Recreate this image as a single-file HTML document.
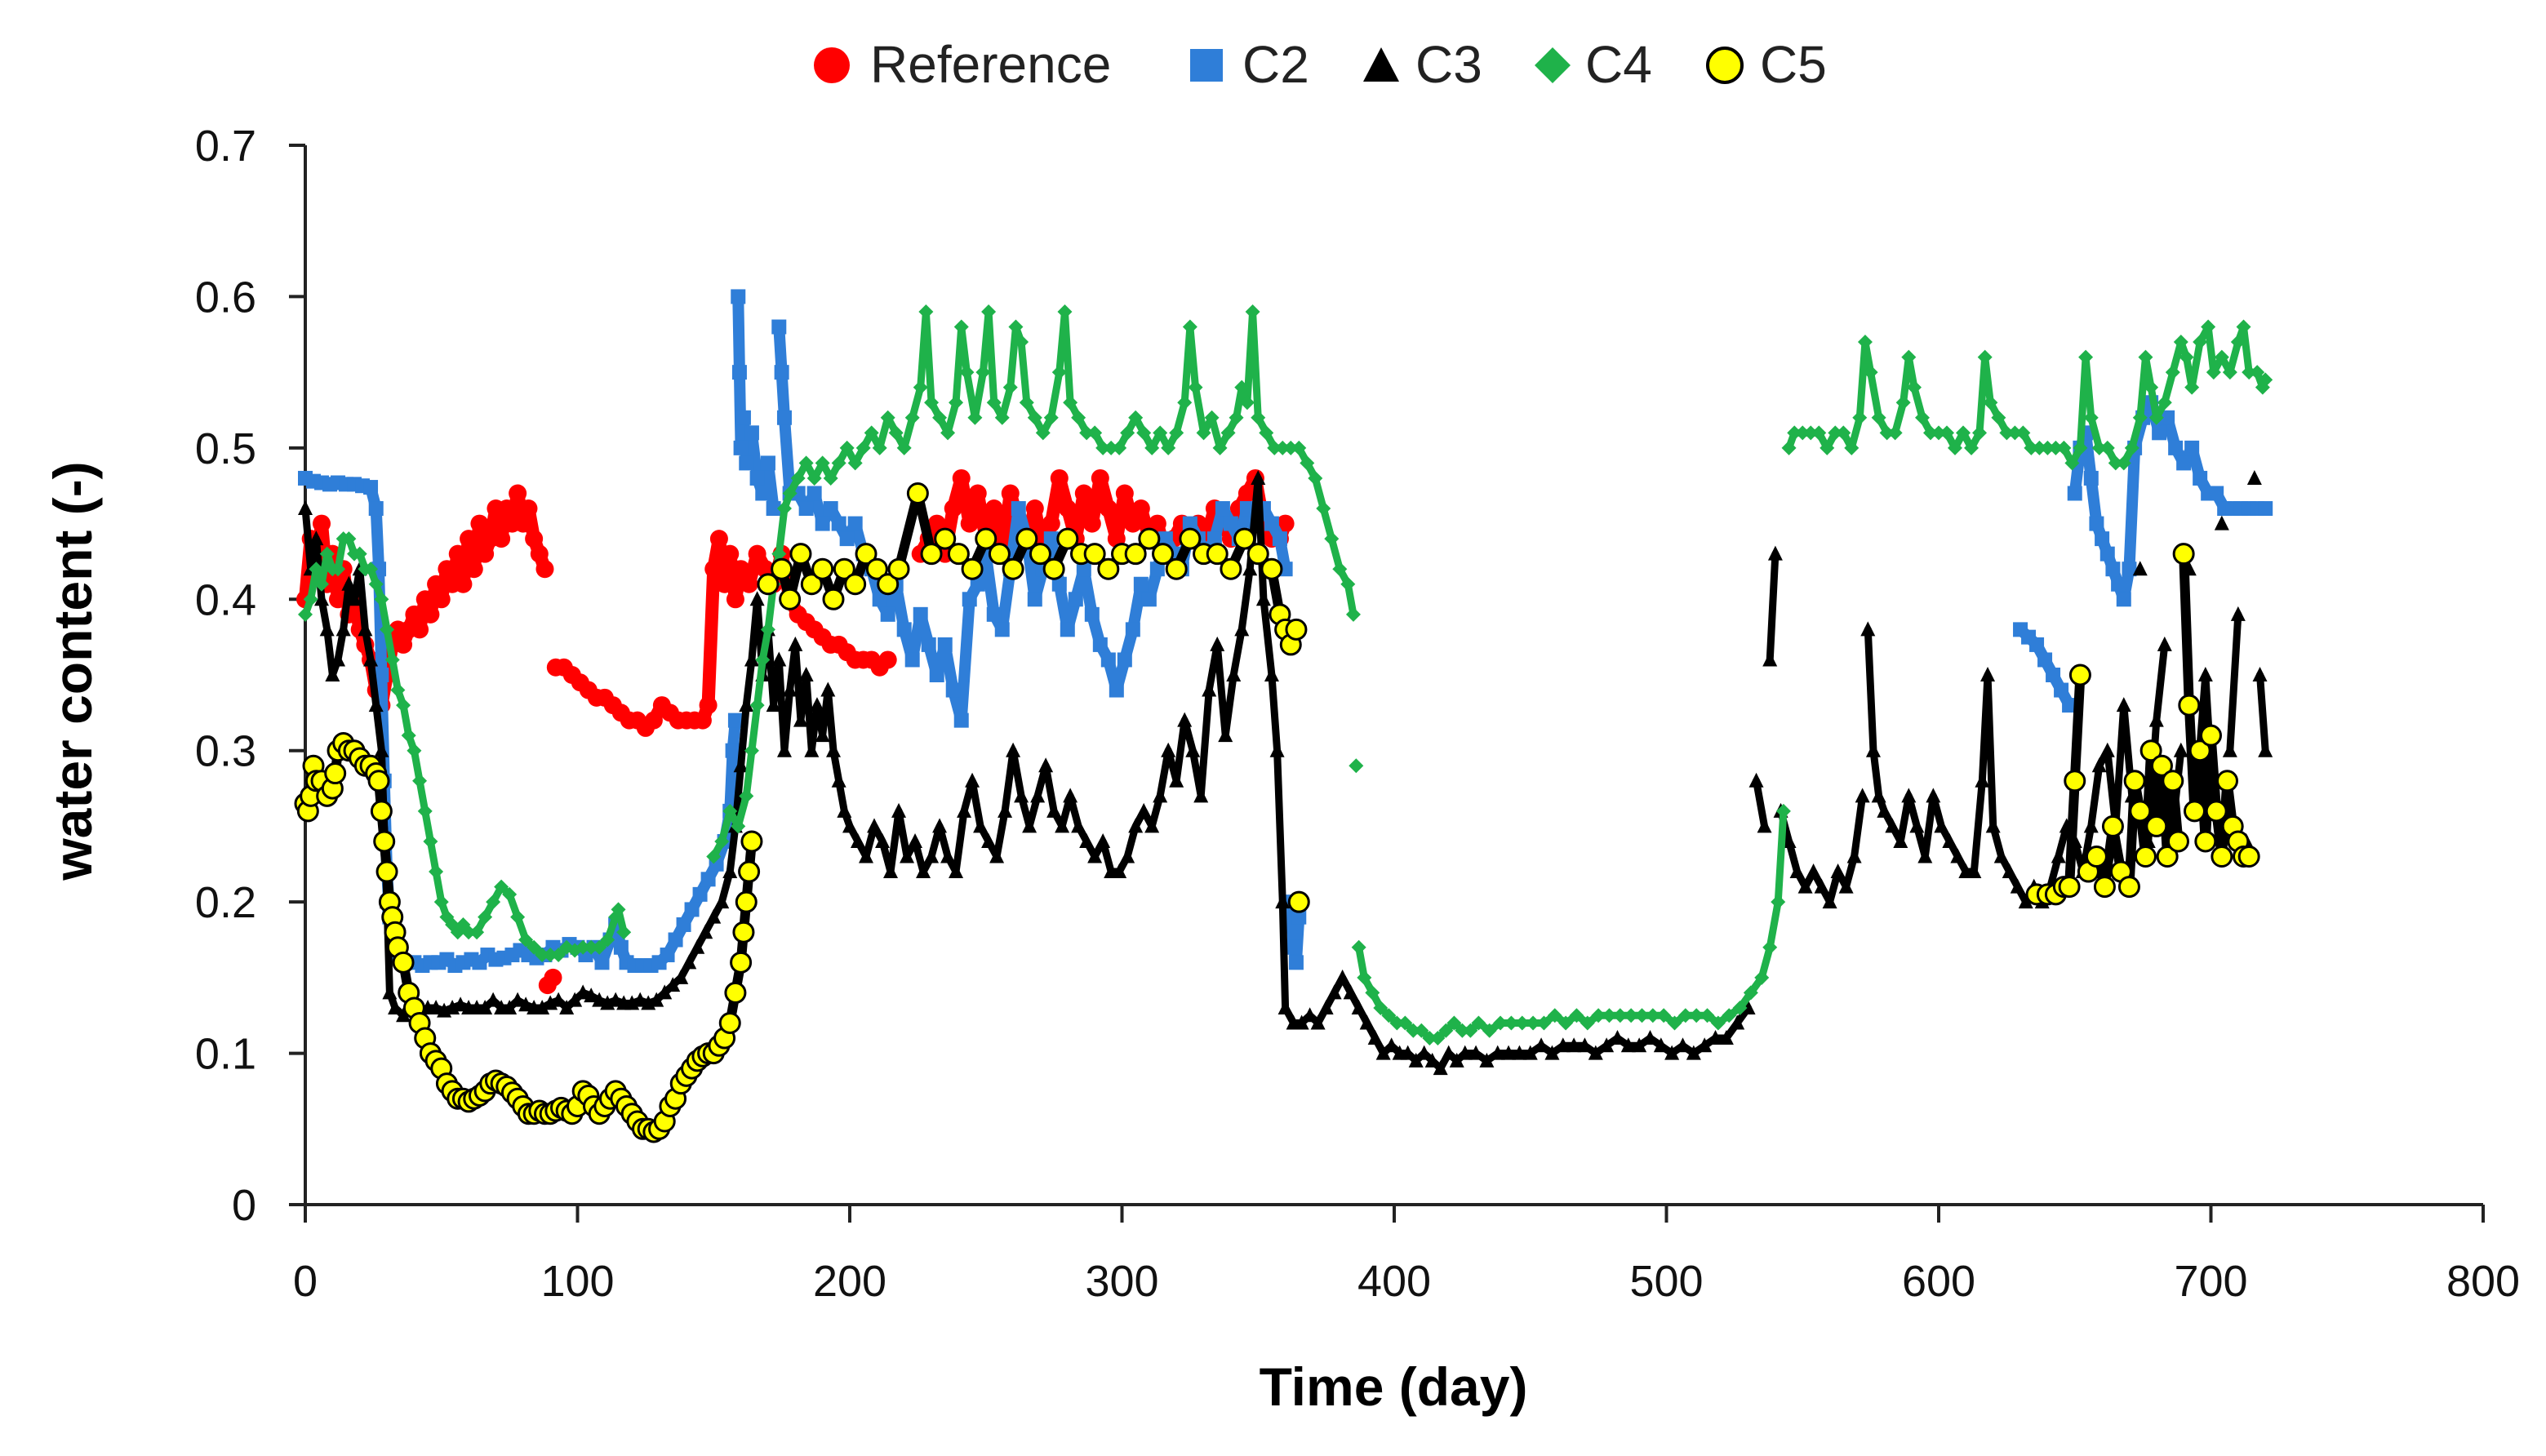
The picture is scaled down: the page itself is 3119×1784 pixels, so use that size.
<!DOCTYPE html>
<html><head><meta charset="utf-8"><style>
html,body{margin:0;padding:0;background:#fff;}
svg{display:block;font-family:"Liberation Sans",sans-serif;}
</style></head><body>
<svg id="chart" width="3119" height="1784" viewBox="0 0 3119 1784" xmlns="http://www.w3.org/2000/svg">
<rect width="3119" height="1784" fill="#fff"/>
<g id="legend">
 <g><circle cx="1019" cy="80" r="22" fill="#ff0000"/><text x="1066" y="101" font-size="64" fill="#222">Reference</text></g>
 <g><rect x="1458" y="60" width="40" height="40" fill="#2f7ed8"/><text x="1522" y="101" font-size="64" fill="#222">C2</text></g>
 <g><polygon points="1692,58 1714,100 1670,100" fill="#000"/><text x="1734" y="101" font-size="64" fill="#222">C3</text></g>
 <g><polygon points="1902,58 1924,80 1902,102 1880,80" fill="#1fb24a"/><text x="1942" y="101" font-size="64" fill="#222">C4</text></g>
 <g><circle cx="2113" cy="80" r="21" fill="#ffff00" stroke="#000" stroke-width="4"/><text x="2156" y="101" font-size="64" fill="#222">C5</text></g>
</g>
<g id="axes"></g>
<g id="marks"></g>
<text x="1707" y="1722" font-size="66" font-weight="bold" text-anchor="middle" fill="#000">Time (day)</text>
<text x="0" y="0" font-size="66" font-weight="bold" text-anchor="middle" fill="#000" transform="translate(112,822) rotate(-90)">water content (-)</text>
</svg>
<script>
const xTicks=[0,100,200,300,400,500,600,700,800];
const yTicks=[0,0.1,0.2,0.3,0.4,0.5,0.6,0.7];
const yTickLabels=["0","0.1","0.2","0.3","0.4","0.5","0.6","0.7"];

const refDays=[0,2,4,6,8,10,12,14,16,18,20,22,24,26,28,30,32,34,36,38,40,42,44,46,48,50,52,54,56,58,60,62,64,66,68,70,72,74,76,78,80,82,84,86,88,89,91,92,95,98,101,104,107,110,113,116,119,122,125,128,131,134,137,140,143,146,148,150,152,154,156,158,160,163,166,169,172,175,178,181,184,187,190,193,196,199,202,205,208,211,214,226,229,232,235,238,241,244,247,250,253,256,259,262,265,268,271,274,277,280,283,286,289,292,295,298,301,304,307,310,313,316,319,322,325,328,331,334,337,340,343,346,349,352,355,358,360];
const refVals=[.40,.44,.42,.45,.41,.43,.40,.42,.39,.40,.38,.37,.36,.34,.33,.35,.37,.38,.37,.38,.39,.38,.40,.39,.41,.40,.42,.41,.43,.41,.44,.42,.45,.43,.44,.46,.44,.46,.45,.47,.45,.46,.44,.43,.42,.145,.15,.355,.355,.35,.345,.34,.335,.335,.33,.325,.32,.32,.315,.32,.33,.325,.32,.32,.32,.32,.33,.42,.44,.41,.43,.40,.42,.41,.43,.42,.41,.43,.40,.39,.385,.38,.375,.37,.37,.365,.36,.36,.36,.355,.36,.43,.44,.45,.43,.46,.48,.45,.47,.44,.46,.43,.47,.45,.44,.46,.43,.45,.48,.46,.44,.47,.45,.48,.46,.44,.47,.45,.46,.44,.45,.43,.44,.45,.44,.45,.44,.46,.45,.44,.46,.47,.48,.45,.44,.44,.45];

const c2Days=[0,3,6,9,12,15,18,21,24,26,27,28,29,30,31,32,34,37,40,43,46,49,52,55,58,61,64,67,70,73,76,79,82,85,88,91,94,97,100,103,106,109,112,114,116,118,121,124,127,130,133,136,139,142,145,148,151,154,156,157,158,159,159.5,160,161,162,164,166,168,170,172,174,175,176,178,181,184,187,190,193,196,199,202,205,208,211,214,217,220,223,226,229,232,235,238,241,244,247,250,253,256,259,262,265,268,271,274,277,280,283,286,289,292,295,298,301,304,307,310,313,316,319,322,325,328,331,334,337,340,343,346,349,352,355,358,360,362,363,364,365,630,633,636,639,642,645,648,650,652,654,656,658,660,662,664,666,668,670,672,675,678,681,684,687,690,693,696,699,702,705,708,711,714,717,720];
const c2Vals=[.48,.478,.477,.476,.477,.476,.476,.475,.474,.46,.42,.35,.28,.22,.19,.17,.165,.16,.16,.158,.16,.16,.162,.158,.16,.162,.16,.165,.162,.163,.165,.168,.165,.163,.165,.17,.168,.172,.17,.165,.17,.16,.175,.185,.17,.16,.158,.158,.158,.16,.165,.175,.185,.195,.205,.215,.225,.24,.26,.3,.32,.6,.55,.5,.52,.49,.51,.48,.47,.49,.46,.58,.55,.52,.47,.47,.46,.47,.45,.46,.45,.44,.45,.43,.42,.40,.39,.41,.38,.36,.39,.37,.35,.37,.34,.32,.40,.41,.43,.39,.38,.42,.46,.44,.40,.42,.44,.41,.38,.40,.42,.39,.37,.36,.34,.36,.38,.41,.40,.42,.44,.43,.42,.45,.44,.43,.44,.46,.45,.44,.46,.45,.46,.45,.44,.42,.20,.17,.16,.19,.38,.375,.37,.36,.35,.34,.33,.47,.50,.51,.48,.45,.44,.43,.42,.41,.40,.42,.50,.52,.53,.51,.52,.50,.49,.50,.48,.47,.47,.46,.46,.46,.46,.46,.46];

const c3Days=[0,2,4,6,8,10,12,14,16,18,20,22,24,26,28,30,31,33,36,39,42,45,48,51,54,57,60,63,66,69,72,75,78,81,84,87,90,93,96,99,102,105,108,111,114,117,120,123,126,129,132,135,138,141,144,147,150,153,156,158,160,162,164,166,168,170,172,174,176,178,180,182,184,186,188,190,192,194,196,198,200,203,206,209,212,215,218,221,224,227,230,233,236,239,242,245,248,251,254,257,260,263,266,269,272,275,278,281,284,287,290,293,296,299,302,305,308,311,314,317,320,323,326,329,332,335,338,341,344,347,350,352,355,357,359,360,363,366,369,372,375,378,381,384,387,390,393,396,399,402,405,408,411,414,417,420,423,426,430,434,438,442,446,450,454,458,462,466,470,474,478,482,486,490,494,498,502,506,510,514,518,522,526,530,533,536,538,540,542,545,548,551,554,557,560,563,566,569,572,574,576,578,580,583,586,589,592,595,598,601,604,607,610,613,616,618,620,623,626,629,632,635,638,641,644,647,650,653,656,659,662,665,668,671,674,677,680,683,686,689,692,695,698,701,704,707,710,713,716,718,720];
const c3Vals=[.46,.42,.44,.40,.38,.35,.36,.38,.41,.40,.42,.38,.36,.33,.30,.2,.14,.13,.125,.13,.128,.13,.13,.128,.13,.132,.13,.13,.13,.135,.13,.13,.135,.132,.13,.13,.133,.135,.13,.135,.14,.138,.135,.133,.135,.133,.133,.135,.133,.135,.14,.145,.15,.16,.17,.18,.19,.2,.22,.25,.29,.33,.36,.40,.35,.38,.33,.36,.30,.34,.37,.32,.35,.30,.33,.31,.34,.30,.28,.26,.25,.24,.23,.25,.24,.22,.26,.23,.24,.22,.23,.25,.23,.22,.26,.28,.25,.24,.23,.26,.30,.27,.25,.27,.29,.26,.25,.27,.25,.24,.23,.24,.22,.22,.23,.25,.26,.25,.27,.30,.28,.32,.30,.27,.34,.37,.31,.35,.38,.42,.48,.40,.35,.30,.2,.13,.12,.12,.125,.12,.13,.14,.15,.14,.13,.12,.11,.10,.105,.10,.10,.095,.10,.095,.09,.10,.095,.10,.10,.095,.10,.10,.10,.10,.105,.10,.105,.105,.105,.10,.105,.11,.105,.105,.11,.105,.10,.105,.10,.105,.11,.11,.12,.13,.28,.25,.36,.43,.26,.24,.22,.21,.22,.21,.20,.22,.21,.23,.27,.38,.30,.27,.26,.25,.24,.27,.25,.23,.27,.25,.24,.23,.22,.22,.28,.35,.25,.23,.22,.21,.20,.21,.20,.21,.23,.25,.24,.22,.25,.29,.30,.25,.33,.27,.42,.24,.32,.37,.25,.30,.42,.28,.35,.26,.45,.30,.39,.24,.48,.35,.30];

const c4Days=[0,2,4,6,8,10,12,14,16,18,20,22,24,26,28,30,32,34,36,38,40,42,44,46,48,50,52,54,56,58,60,63,66,69,72,75,78,81,84,87,90,93,96,99,102,105,108,111,114,115,117,150,153,156,159,162,164,166,168,170,172,174,176,178,181,184,187,190,193,196,199,202,205,208,211,214,217,220,223,226,228,230,233,236,239,241,243,246,249,251,253,256,259,261,263,265,268,271,274,277,279,281,284,287,290,293,296,299,302,305,308,311,314,317,320,323,325,327,330,333,336,339,342,344,346,348,350,353,356,359,362,365,368,371,374,377,380,383,385,386,387,389,392,395,398,401,404,407,410,413,416,419,422,425,428,431,435,439,443,447,451,455,459,463,467,471,475,479,483,487,491,495,499,503,507,511,515,519,523,527,531,535,538,541,543,545,547,550,553,556,559,562,565,568,571,573,575,578,581,584,587,589,591,594,597,600,603,606,609,612,615,617,619,622,625,628,631,634,637,640,643,646,649,652,654,656,659,662,665,668,671,674,676,678,680,683,686,689,691,693,696,699,701,704,707,710,712,714,717,719,720];
const c4Vals=[.39,.40,.42,.41,.43,.42,.42,.44,.44,.43,.43,.42,.42,.41,.40,.38,.36,.34,.33,.31,.30,.28,.26,.24,.22,.20,.19,.185,.18,.185,.18,.18,.19,.2,.21,.205,.19,.175,.17,.165,.165,.165,.17,.168,.17,.17,.17,.175,.19,.195,.18,.23,.24,.26,.25,.27,.30,.33,.36,.38,.41,.43,.46,.47,.48,.49,.48,.49,.48,.49,.50,.49,.50,.51,.50,.52,.51,.50,.52,.54,.59,.53,.52,.51,.53,.58,.55,.52,.55,.59,.53,.52,.54,.58,.57,.53,.52,.51,.52,.55,.59,.53,.52,.51,.51,.50,.50,.50,.51,.52,.51,.50,.51,.50,.51,.53,.58,.54,.51,.52,.50,.51,.52,.54,.53,.59,.52,.51,.50,.50,.50,.50,.49,.48,.46,.44,.42,.41,.39,.29,.17,.15,.14,.13,.125,.12,.12,.115,.115,.11,.11,.115,.12,.115,.115,.12,.115,.12,.12,.12,.12,.12,.125,.12,.125,.12,.125,.125,.125,.125,.125,.125,.125,.12,.125,.125,.125,.12,.125,.13,.14,.15,.17,.20,.26,.50,.51,.51,.51,.51,.50,.51,.51,.50,.52,.57,.55,.52,.51,.51,.53,.56,.54,.52,.51,.51,.51,.50,.51,.50,.51,.56,.53,.52,.51,.51,.51,.50,.50,.50,.50,.50,.49,.50,.56,.52,.50,.50,.49,.49,.50,.52,.56,.54,.52,.53,.55,.57,.56,.54,.57,.58,.55,.56,.55,.57,.58,.55,.55,.54,.545];

const c5Days=[0,1,2,3,4,6,8,10,11,12,14,16,18,20,22,24,26,27,28,29,30,31,32,33,34,36,38,40,42,44,46,48,50,52,54,56,58,60,62,64,66,68,70,72,74,76,78,80,82,84,86,88,90,92,94,96,98,100,102,104,106,108,110,112,114,116,118,120,122,124,126,128,130,132,134,136,138,140,142,144,146,148,150,152,154,156,158,160,161,162,163,164,170,175,178,182,186,190,194,198,202,206,210,214,218,225,230,235,240,245,250,255,260,265,270,275,280,285,290,295,300,305,310,315,320,325,330,335,340,345,350,355,358,360,362,364,365,636,640,643,646,648,650,652,655,658,661,664,667,670,672,674,676,678,680,682,684,686,688,690,692,694,696,698,700,702,704,706,708,710,712,714];
const c5Vals=[.265,.26,.27,.29,.28,.28,.27,.275,.285,.30,.305,.30,.30,.295,.29,.29,.285,.28,.26,.24,.22,.20,.19,.18,.17,.16,.14,.13,.12,.11,.10,.095,.09,.08,.075,.07,.07,.068,.07,.072,.075,.08,.082,.08,.078,.074,.07,.065,.06,.06,.062,.06,.06,.062,.064,.062,.06,.065,.075,.072,.065,.06,.065,.07,.075,.07,.065,.06,.055,.05,.05,.048,.05,.055,.065,.07,.08,.085,.09,.095,.098,.10,.10,.105,.11,.12,.14,.16,.18,.20,.22,.24,.41,.42,.40,.43,.41,.42,.40,.42,.41,.43,.42,.41,.42,.47,.43,.44,.43,.42,.44,.43,.42,.44,.43,.42,.44,.43,.43,.42,.43,.43,.44,.43,.42,.44,.43,.43,.42,.44,.43,.42,.39,.38,.37,.38,.20,.205,.205,.205,.21,.21,.28,.35,.22,.23,.21,.25,.22,.21,.28,.26,.23,.30,.25,.29,.23,.28,.24,.43,.33,.26,.30,.24,.31,.26,.23,.28,.25,.24,.23,.23];

const NS="http://www.w3.org/2000/svg";
const X0=374,X1=3042,Y0=1476,Y1=178;
function xs(d){return X0+(d-0)/(800-0)*(X1-X0);}
function ys(v){return Y0-(v-0)/(0.7-0)*(Y0-Y1);}
function mk(tag,attrs,parent){const e=document.createElementNS(NS,tag);for(const k in attrs)e.setAttribute(k,attrs[k]);parent.appendChild(e);return e;}
const axes=document.getElementById('axes');
const marks=document.getElementById('marks');

const yAxis=mk('line',{x1:X0,y1:Y0,x2:X0,y2:Y1,stroke:'#222','stroke-width':4},axes);


const xAxis=mk('line',{x1:X0-20,y1:Y0,x2:X1,y2:Y0,stroke:'#222','stroke-width':4},axes);


yTicks.forEach((v,i)=>{
  const t=mk('line',{x1:X0-20,y1:ys(v),x2:X0,y2:ys(v),stroke:'#222','stroke-width':4},axes);
  
  
  const l=mk('text',{x:314,y:ys(v)+19,'font-size':54,'text-anchor':'end',fill:'#111'},axes);
  l.textContent=yTickLabels[i];
  
  
});
xTicks.forEach(d=>{
  const t=mk('line',{x1:xs(d),y1:Y0,x2:xs(d),y2:Y0+22,stroke:'#222','stroke-width':4},axes);
  
  
  const l=mk('text',{x:xs(d),y:1588,'font-size':54,'text-anchor':'middle',fill:'#111'},axes);
  l.textContent=String(d);
  
  
});

function band(days,vals,name,color,w,g){
  let seg=[];
  const flush=()=>{
    if(seg.length>1){
      const p=mk('polyline',{points:seg.join(' '),fill:'none',stroke:color,'stroke-width':w,'stroke-linejoin':'round','stroke-linecap':'round'},g);
      
      
    }
    seg=[];
  };
  for(let i=0;i<days.length;i++){
    if(i>0&&(days[i]-days[i-1]>8||Math.abs(vals[i]-vals[i-1])>0.1))flush();
    seg.push(xs(days[i])+','+ys(vals[i]));
  }
  flush();
}
function drawSeries(days,vals,name,shape,color,bw){
  const g=mk('g',{},marks);
  
  
  band(days,vals,name,color,bw,g);
  for(let i=0;i<days.length;i++){
    const x=xs(days[i]),y=ys(vals[i]);let e;
    if(shape==='circle')e=mk('circle',{cx:x,cy:y,r:11,fill:'#ff0000'},g);
    else if(shape==='square')e=mk('rect',{x:x-9,y:y-9,width:18,height:18,fill:'#2f7ed8'},g);
    else if(shape==='tri')e=mk('polygon',{points:`${x},${y-10} ${x+9},${y+8} ${x-9},${y+8}`,fill:'#000'},g);
    else if(shape==='diamond')e=mk('polygon',{points:`${x},${y-9} ${x+9},${y} ${x},${y+9} ${x-9},${y}`,fill:'#1fb24a'},g);
    else e=mk('circle',{cx:x,cy:y,r:12,fill:'#ffff00',stroke:'#000','stroke-width':3},g);
    
    
  }
}
drawSeries(refDays,refVals,'reference','circle','#ff0000',16);
drawSeries(c2Days,c2Vals,'c2','square','#2f7ed8',14);
drawSeries(c3Days,c3Vals,'c3','tri','#000',9);
drawSeries(c4Days,c4Vals,'c4','diamond','#1fb24a',9);
drawSeries(c5Days,c5Vals,'c5','yellow','#000',12);
</script>
</body></html>
